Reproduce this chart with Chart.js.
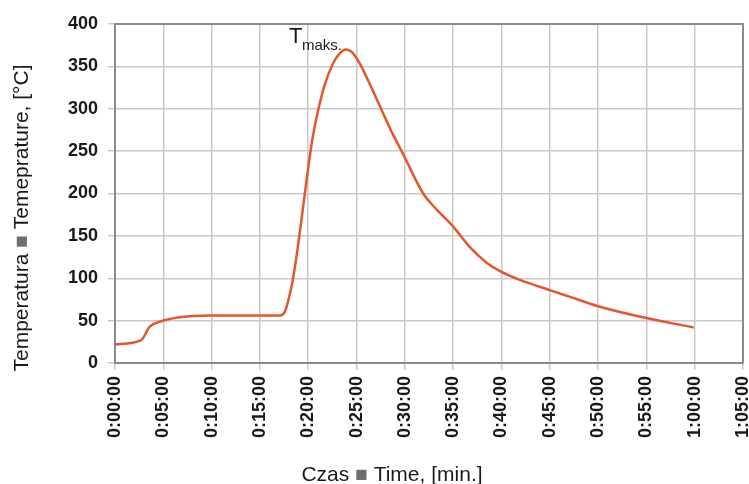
<!DOCTYPE html>
<html>
<head>
<meta charset="utf-8">
<script src="https://cdn.jsdelivr.net/npm/chart.js@4.4.1/dist/chart.umd.min.js"></script>
<style>
  html, body { margin: 0; padding: 0; background: #fff; }
  #wrap { width: 749px; height: 484px; position: relative; }
</style>
</head>
<body>
<div id="wrap"><canvas id="tempChart"></canvas></div>
<script>
// time in minutes, temperature in degC
const timeMin = [0, 2.7, 3.6, 4.7, 6.7, 9.8, 15, 17.0, 17.5, 17.9, 18.4, 18.9, 19.4, 19.9, 20.4, 21.0, 21.7, 22.5, 23.3, 23.9, 24.6, 25.3, 26.5, 28.5, 29.8, 31.9, 33.3, 35.0, 36.7, 38.5, 39.9, 41.9, 45.0, 47.1, 50.0, 55.0, 59.9];
const tempC = [22, 27, 43, 49, 54, 56, 56, 56, 59, 72, 98, 135, 178, 222, 262, 297, 328, 352, 366, 370, 366, 354, 326, 276, 247, 200, 181, 161, 137, 118, 108, 98, 86, 78, 67, 53, 42];
const yTicks = [0, 50, 100, 150, 200, 250, 300, 350, 400];
const xTickStep = 5;
const xMax = 65;

const yTitle = ['Temperatura ', '\u25A0', ' Temeprature, [°C]'];
const xTitle = ['Czas ', '\u25A0', ' Time, [min.]'];

const FONT = '"Liberation Sans", Arial, sans-serif';
const TEXT = '#1a1a1a';
const SQUARE = '#6e6e6e';

function fmtTime(m) {
    const h = Math.floor(m / 60);
    const mm = String(Math.round(m % 60)).padStart(2, '0');
    return h + ':' + mm + ':00';
}

// draws a title made of pieces, the middle one in grey
function drawPieces(ctx, pieces, cx, cy, rotate) {
    ctx.save();
    ctx.translate(cx, cy);
    if (rotate) ctx.rotate(-Math.PI / 2);
    ctx.font = '21px ' + FONT;
    ctx.textBaseline = 'middle';
    ctx.textAlign = 'left';
    const total = pieces.reduce((s, p) => s + ctx.measureText(p).width, 0);
    let x = -total / 2;
    pieces.forEach((p, i) => {
        ctx.fillStyle = i === 1 ? SQUARE : TEXT;
        ctx.fillText(p, x, 0);
        x += ctx.measureText(p).width;
    });
    ctx.restore();
}

const labelsPlugin = {
    id: 'labels',
    afterDraw(chart) {
        const ctx = chart.ctx;
        const area = chart.chartArea;
        drawPieces(ctx, yTitle, 22, area.top + 194, true);
        drawPieces(ctx, xTitle, area.left + 277, 475, false);

        // T maks at the peak
        let iMax = 0;
        tempC.forEach((v, i) => { if (v > tempC[iMax]) iMax = i; });
        const px = chart.scales.x.getPixelForValue(timeMin[iMax]);
        const py = chart.scales.y.getPixelForValue(tempC[iMax]);
        ctx.save();
        ctx.fillStyle = TEXT;
        ctx.textBaseline = 'alphabetic';
        ctx.font = '22px ' + FONT;
        ctx.fillText('T', px - 57, py - 6);
        ctx.font = '15px ' + FONT;
        ctx.fillText('maks.', px - 44, py + 1);
        ctx.restore();
    }
};

const frameColor = '#8a8a8a';
const gridColor = '#c9c9c9';

const ctx = document.getElementById('tempChart').getContext('2d');
new Chart(ctx, {
    type: 'line',
    data: {
        datasets: [{
            data: timeMin.map((t, i) => ({ x: t, y: tempC[i] })),
            borderColor: '#e5562c',
            borderWidth: 2.5,
            pointRadius: 0,
            fill: false,
            cubicInterpolationMode: 'monotone'
        }]
    },
    options: {
        responsive: true,
        maintainAspectRatio: false,
        animation: false,
        layout: { padding: { top: 24, right: 6, left: 0, bottom: 0 } },
        plugins: {
            legend: { display: false },
            tooltip: { enabled: false }
        },
        scales: {
            x: {
                type: 'linear',
                min: 0,
                max: xMax,
                ticks: {
                    stepSize: xTickStep,
                    minRotation: 90,
                    maxRotation: 90,
                    padding: 6,
                    color: TEXT,
                    font: { family: FONT, size: 18, weight: 'bold' },
                    callback: v => fmtTime(v)
                },
                grid: { color: gridColor, lineWidth: 1.5, tickLength: 7, tickColor: gridColor },
                border: { display: true, color: frameColor, width: 2 },
                afterFit(scale) {
                    scale.height = 121;
                    scale.paddingLeft = 0;
                    scale.paddingRight = 0;
                }
            },
            y: {
                min: 0,
                max: 400,
                afterBuildTicks(scale) {
                    scale.ticks = yTicks.map(v => ({ value: v }));
                },
                ticks: {
                    padding: 10,
                    color: TEXT,
                    font: { family: FONT, size: 18, weight: 'bold' }
                },
                grid: { color: gridColor, lineWidth: 1.5, tickLength: 7, tickColor: gridColor },
                border: { display: true, color: frameColor, width: 2 },
                afterFit(scale) {
                    scale.width = 115;
                    scale.paddingTop = 0;
                    scale.paddingBottom = 0;
                }
            }
        }
    },
    plugins: [labelsPlugin, {
        id: 'frame',
        afterDatasetsDraw(chart) {
            const a = chart.chartArea;
            const c = chart.ctx;
            c.save();
            c.strokeStyle = frameColor;
            c.lineWidth = 2;
            c.beginPath();
            c.moveTo(a.left, a.top);
            c.lineTo(a.right, a.top);
            c.lineTo(a.right, a.bottom);
            c.stroke();
            c.restore();
        }
    }]
});
</script>
</body>
</html>
